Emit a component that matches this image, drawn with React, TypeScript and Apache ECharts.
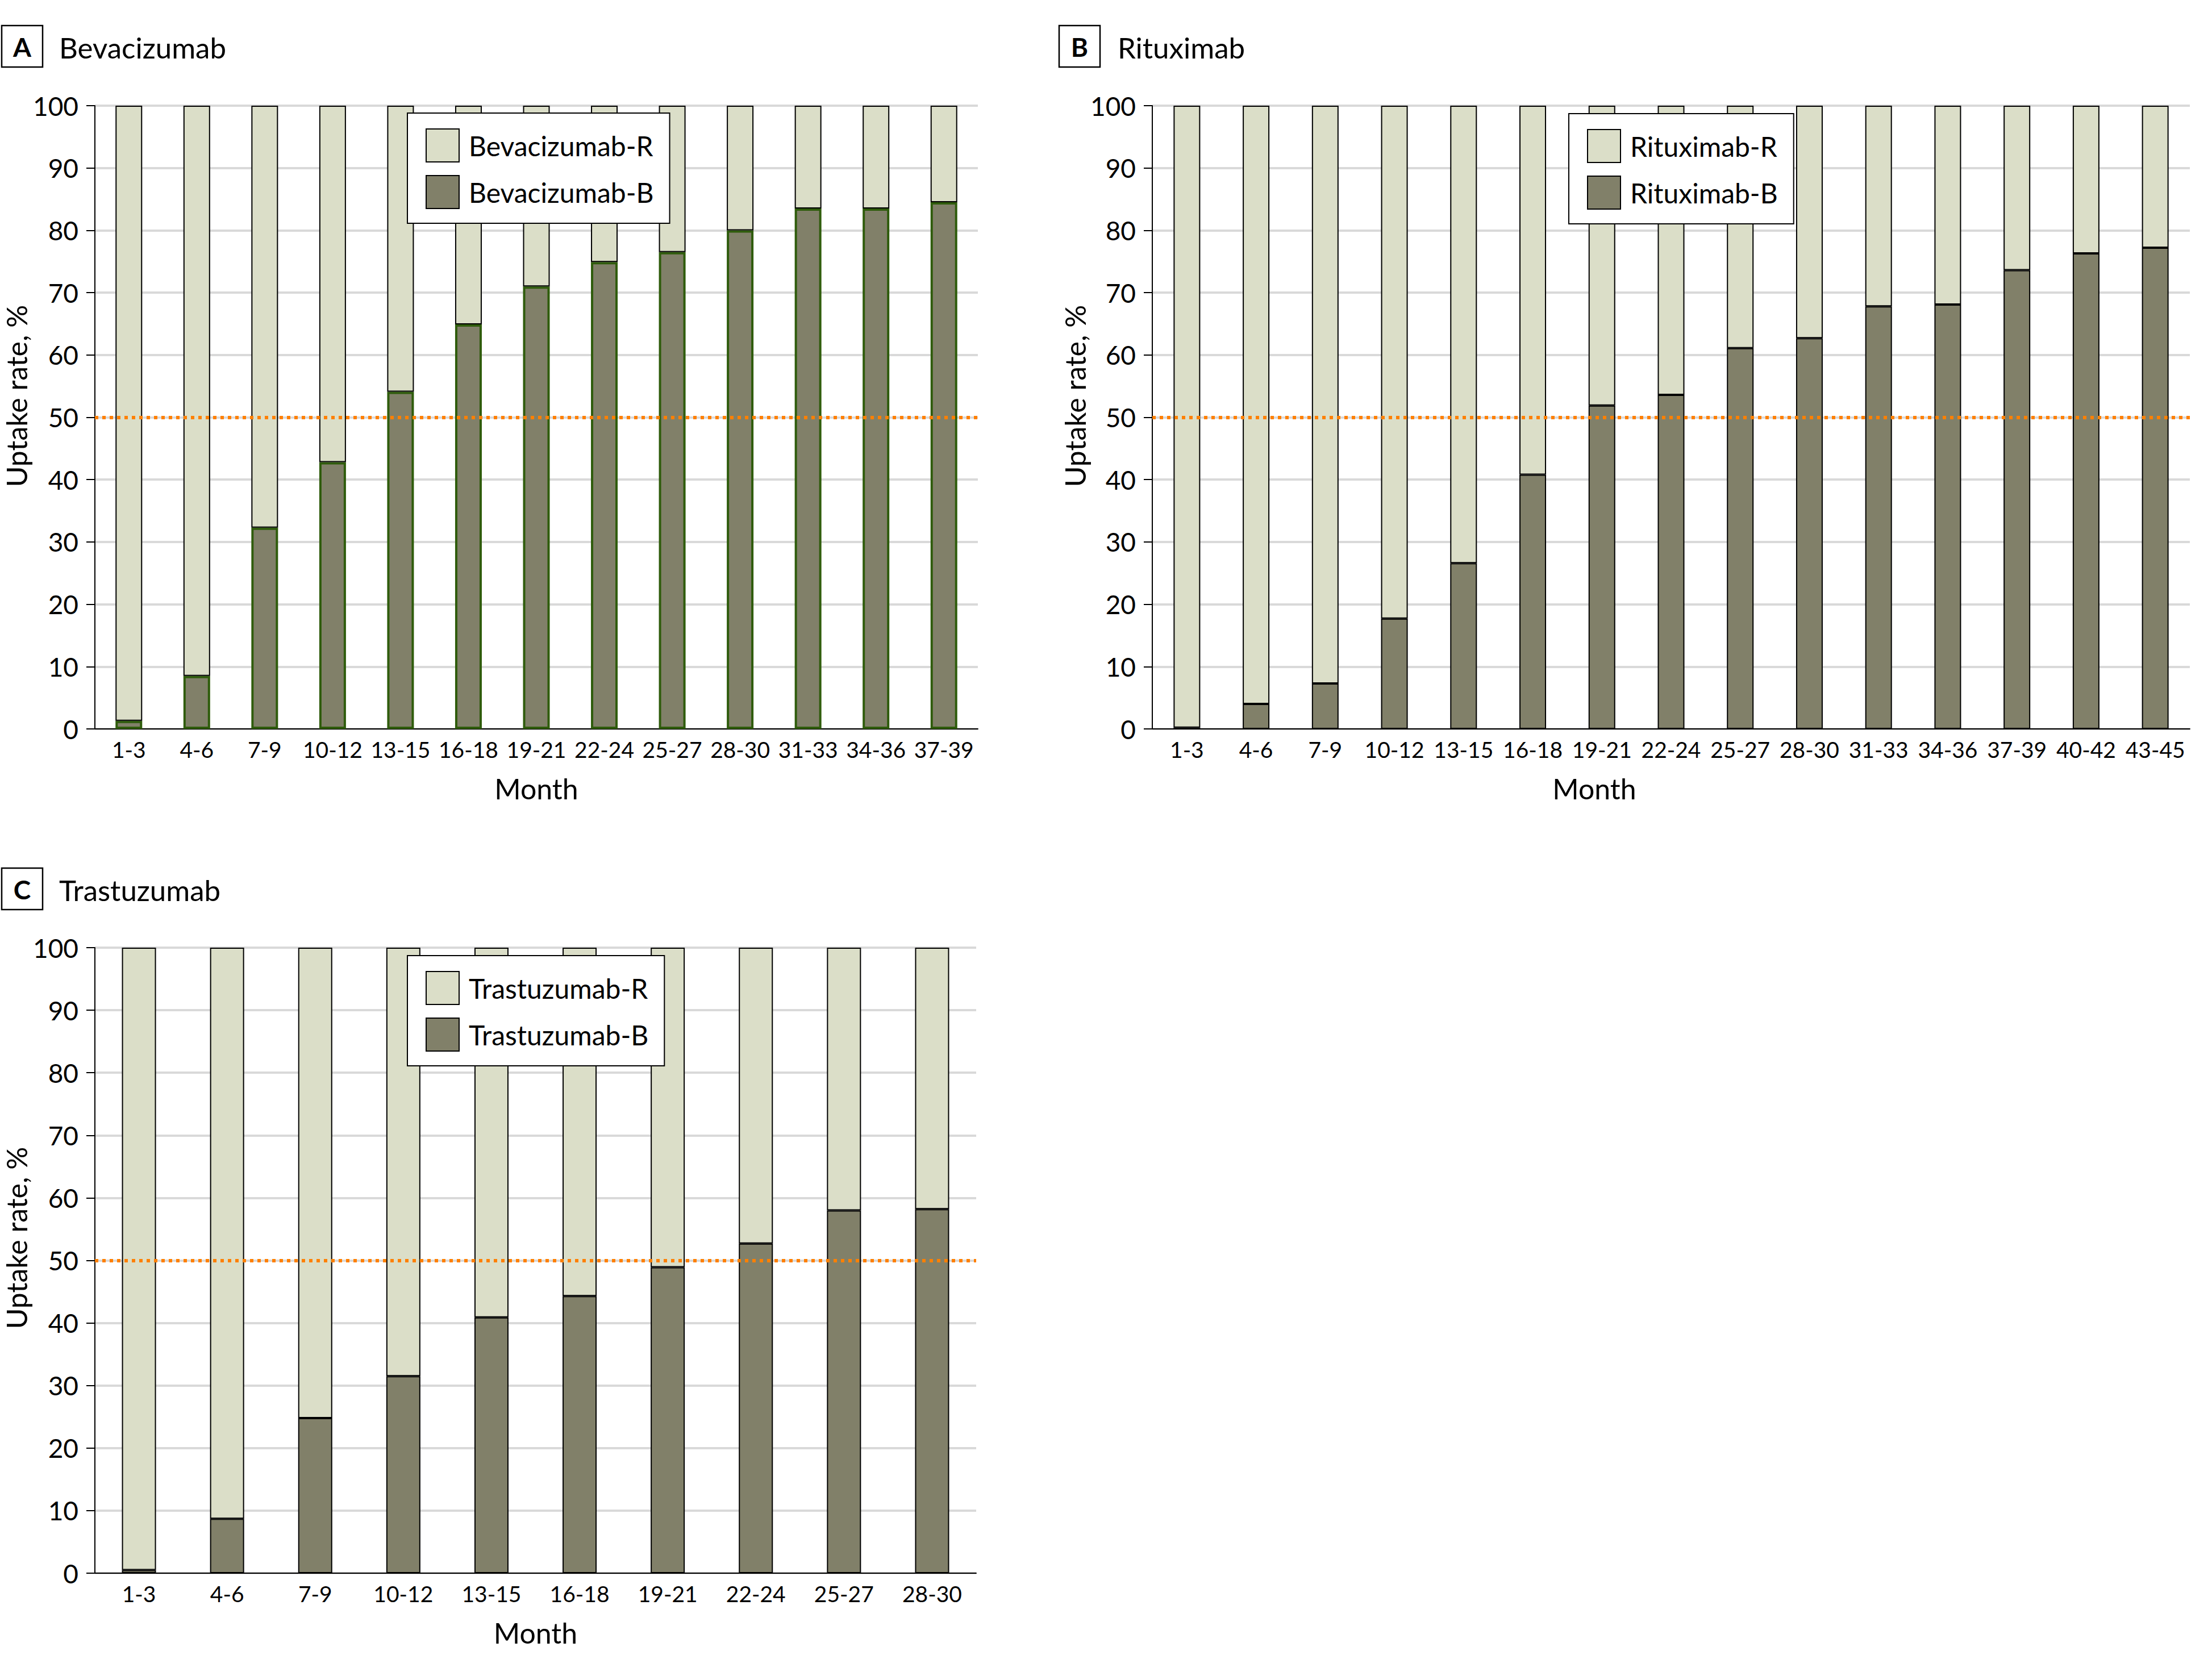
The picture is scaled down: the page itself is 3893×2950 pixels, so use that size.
import React, { useEffect, useRef } from "react";
import * as echarts from "echarts";

const monthsA = ["1-3", "4-6", "7-9", "10-12", "13-15", "16-18", "19-21", "22-24", "25-27", "28-30", "31-33", "34-36", "37-39"];
const bevB = [1.3, 8.5, 32.3, 42.8, 54.1, 64.9, 71.0, 74.9, 76.5, 80.0, 83.5, 83.5, 84.5];
const bevR = [98.7, 91.5, 67.7, 57.2, 45.9, 35.1, 29.0, 25.1, 23.5, 20.0, 16.5, 16.5, 15.5];

const monthsB = ["1-3", "4-6", "7-9", "10-12", "13-15", "16-18", "19-21", "22-24", "25-27", "28-30", "31-33", "34-36", "37-39", "40-42", "43-45"];
const ritB = [0.2, 4.0, 7.3, 17.7, 26.6, 40.8, 51.9, 53.6, 61.1, 62.7, 67.8, 68.1, 73.6, 76.3, 77.2];
const ritR = [99.8, 96.0, 92.7, 82.3, 73.4, 59.2, 48.1, 46.4, 38.9, 37.3, 32.2, 31.9, 26.4, 23.7, 22.8];

const monthsC = ["1-3", "4-6", "7-9", "10-12", "13-15", "16-18", "19-21", "22-24", "25-27", "28-30"];
const traB = [0.5, 8.7, 24.8, 31.5, 40.9, 44.3, 48.9, 52.7, 58.0, 58.2];
const traR = [99.5, 91.3, 75.2, 68.5, 59.1, 55.7, 51.1, 47.3, 42.0, 41.8];

const yTicks = [0, 10, 20, 30, 40, 50, 60, 70, 80, 90, 100];
const threshold = 50;

const FONT = "Lato";
const LIGHT = "#dbdec8";
const DARK = "#818069";
const GREEN = "#2f5c0c";
const ORANGE = "#ff8000";

export default function App() {
  const ref = useRef<HTMLDivElement>(null);

  useEffect(() => {
    if (!ref.current) return;
    const chart = echarts.init(ref.current, undefined, { renderer: "svg" });

    const grids = [
      { left: 167, top: 186, width: 1554, height: 1097 },
      { left: 2028, top: 186, width: 1826, height: 1097 },
      { left: 167, top: 1668, width: 1551, height: 1101 },
    ];

    const panels = [
      { name: "Bevacizumab", months: monthsA, b: bevB, r: bevR, barWidth: 47, darkBorder: GREEN, darkBorderW: 4, monthPad: [0, 0, 0, 0] },
      { name: "Rituximab", months: monthsB, b: ritB, r: ritR, barWidth: 47, darkBorder: "#000", darkBorderW: 2, monthPad: [0, 270, 0, 0] },
      { name: "Trastuzumab", months: monthsC, b: traB, r: traR, barWidth: 60, darkBorder: "#000", darkBorderW: 2, monthPad: [0, 0, 0, 0] },
    ];

    const xAxis = panels.map((p, i) => ({
      type: "category",
      gridIndex: i,
      data: p.months,
      name: "Month",
      nameLocation: "middle",
      nameGap: 80,
      nameTextStyle: { fontFamily: FONT, fontSize: 50, color: "#000", padding: p.monthPad },
      axisLine: { show: true, lineStyle: { color: "#000", width: 2 } },
      axisTick: { show: false },
      axisLabel: { interval: 0, margin: 16, fontFamily: FONT, fontSize: 39, color: "#000" },
    }));

    const yAxis = panels.map((p, i) => ({
      type: "value",
      gridIndex: i,
      min: yTicks[0],
      max: yTicks[yTicks.length - 1],
      interval: yTicks[1] - yTicks[0],
      axisLine: { show: true, lineStyle: { color: "#000", width: 2 } },
      axisTick: { show: true, length: 15, lineStyle: { color: "#000", width: 2 } },
      axisLabel: { margin: 29, fontFamily: FONT, fontSize: 46, color: "#000" },
      splitLine: { show: true, lineStyle: { color: "#d9d9d9", width: 4 } },
    }));

    const series: any[] = [];
    panels.forEach((p, i) => {
      series.push({
        type: "bar",
        name: p.name + "-B",
        xAxisIndex: i,
        yAxisIndex: i,
        stack: "s" + i,
        barWidth: p.barWidth,
        data: p.b,
        itemStyle: { color: DARK, borderColor: p.darkBorder, borderWidth: p.darkBorderW },
      });
      series.push({
        type: "bar",
        name: p.name + "-R",
        xAxisIndex: i,
        yAxisIndex: i,
        stack: "s" + i,
        barWidth: p.barWidth,
        data: p.r,
        itemStyle: { color: LIGHT, borderColor: "#000", borderWidth: 2 },
        markLine: {
          silent: true,
          symbol: ["none", "none"],
          label: { show: false },
          lineStyle: { color: ORANGE, width: 6, type: [6, 7], opacity: 1 },
          data: [{ yAxis: threshold }],
        },
      });
    });

    const legendPos = [
      { left: 717, top: 199 },
      { left: 2761, top: 200 },
      { left: 717, top: 1682 },
    ];

    const legend = panels.map((p, i) => ({
      ...legendPos[i],
      orient: "vertical",
      data: [p.name + "-R", p.name + "-B"],
      itemWidth: 58,
      itemHeight: 58,
      itemGap: 22,
      padding: [27, 28, 25, 32],
      borderColor: "#000",
      borderWidth: 2,
      backgroundColor: "#fff",
      selectedMode: false,
      icon: "rect",
      itemStyle: { borderColor: "#000", borderWidth: 2 },
      textStyle: { fontFamily: FONT, fontSize: 48, color: "#000", padding: [0, 0, 0, 12] },
    }));

    const boxes = [
      { x: 3, y: 45, letter: "A", title: "Bevacizumab", tx: 104, ty: 83 },
      { x: 1864, y: 45, letter: "B", title: "Rituximab", tx: 1967, ty: 83 },
      { x: 3, y: 1528, letter: "C", title: "Trastuzumab", tx: 104, ty: 1566 },
    ];

    const graphic: any[] = [];
    boxes.forEach((b) => {
      graphic.push({
        type: "rect",
        shape: { x: b.x, y: b.y, width: 72, height: 73 },
        style: { fill: "#fff", stroke: "#000", lineWidth: 2.5 },
      });
      graphic.push({
        type: "text",
        x: b.x + 36,
        y: b.y + 37,
        style: {
          text: b.letter,
          fontFamily: FONT,
          fontWeight: "bold",
          fontSize: 46,
          fill: "#000",
          align: "center",
          verticalAlign: "middle",
          textAlign: "center",
          textVerticalAlign: "middle",
        },
      });
      graphic.push({
        type: "text",
        x: b.tx,
        y: b.ty,
        style: {
          text: b.title,
          fontFamily: FONT,
          fontSize: 51,
          fill: "#000",
          align: "left",
          verticalAlign: "middle",
          textAlign: "left",
          textVerticalAlign: "middle",
        },
      });
    });
    const yTitles = [
      { x: 29, y: 697 },
      { x: 1892, y: 697 },
      { x: 29, y: 2179 },
    ];
    yTitles.forEach((t) => {
      graphic.push({
        type: "text",
        x: t.x,
        y: t.y,
        rotation: Math.PI / 2,
        style: {
          text: "Uptake rate, %",
          fontFamily: FONT,
          fontSize: 50,
          fill: "#000",
          align: "center",
          verticalAlign: "middle",
          textAlign: "center",
          textVerticalAlign: "middle",
        },
      });
    });

    chart.setOption({
      animation: false,
      backgroundColor: "#fff",
      textStyle: { fontFamily: FONT },
      grid: grids,
      xAxis,
      yAxis,
      legend,
      series,
      graphic,
    });

    return () => chart.dispose();
  }, []);

  return (
    <div
      ref={ref}
      style={{ position: "absolute", left: 0, top: 0, width: 3893, height: 2950, background: "#fff" }}
    />
  );
}
